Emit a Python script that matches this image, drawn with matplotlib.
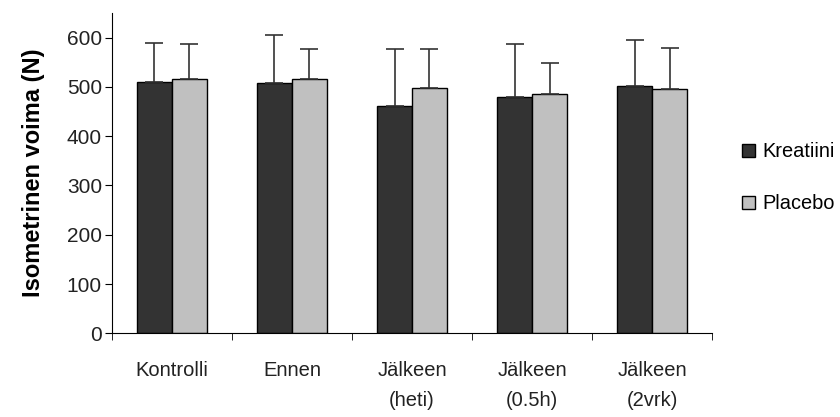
import numpy as np
import matplotlib.pyplot as plt
from matplotlib.ticker import FixedLocator

categories = ['Kontrolli', 'Ennen', 'Jälkeen\n(heti)', 'Jälkeen\n(0.5h)', 'Jälkeen\n(2vrk)']
kreatiini = [511, 508, 461, 480, 501]
placebo = [517, 517, 498, 486, 495]
kreatiini_sd = [79, 98, 116, 108, 95]
placebo_sd = [70, 60, 79, 63, 85]

plt.rcParams['font.family'] = ['Liberation Sans', 'DejaVu Sans']

fig = plt.figure(figsize=(8.4, 4.17), dpi=100)
ax = fig.add_axes([0.133, 0.2007, 0.715, 0.768])

x = np.arange(len(categories))
w = 0.29
err_kw = dict(ecolor='#333333', elinewidth=1.2, capsize=6.5, capthick=1.2)
ax.bar(x - w / 2, kreatiini, w, color='#333333', edgecolor='black', linewidth=1,
       yerr=[np.zeros(len(x)), kreatiini_sd], error_kw=err_kw, label='Kreatiini', zorder=2)
ax.bar(x + w / 2, placebo, w, color='#c0c0c0', edgecolor='black', linewidth=1,
       yerr=[np.zeros(len(x)), placebo_sd], error_kw=err_kw, label='Placebo', zorder=2)

ax.set_xlim(-0.5, len(categories) - 0.5)
ax.set_ylim(0, 650)
ax.set_yticks(range(0, 601, 100))
ax.set_xticks(x)
ax.set_xticklabels(categories, fontsize=14.5, linespacing=1.7, color='#222222')
ax.xaxis.set_minor_locator(FixedLocator(np.arange(-0.5, len(categories), 1.0)))
ax.tick_params(axis='x', which='major', length=0, pad=20)
ax.tick_params(axis='x', which='minor', length=5, direction='out')
ax.tick_params(axis='y', length=5, direction='out', labelsize=15, pad=2,
               labelcolor='#222222')
ax.spines['top'].set_visible(False)
ax.spines['right'].set_visible(False)
ax.set_ylabel('Isometrinen voima (N)', fontsize=17, fontweight='bold', labelpad=16)

ax.legend(loc='center left', bbox_to_anchor=(1.049, 0.485), frameon=False,
          fontsize=14.4, handlelength=0.67, handleheight=0.67, labelspacing=1.65,
          handletextpad=0.35, borderpad=0, borderaxespad=0)

fig.savefig('out.png', dpi=100)
